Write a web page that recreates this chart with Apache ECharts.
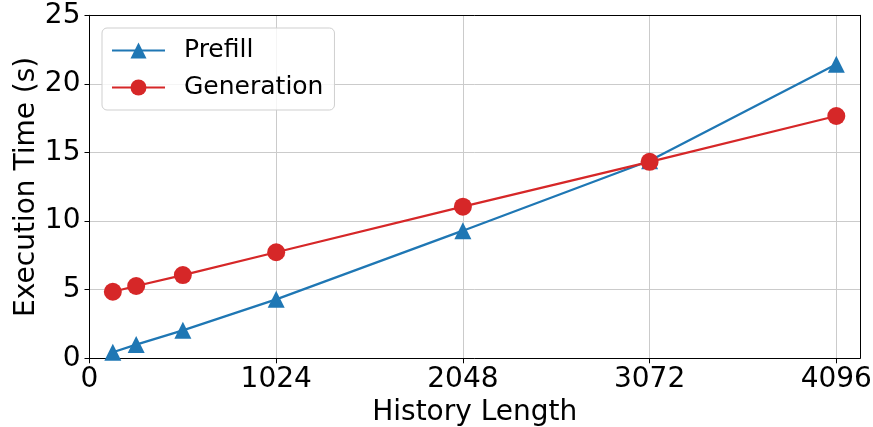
<!DOCTYPE html>
<html>
<head>
<meta charset="utf-8">
<script src="https://cdn.jsdelivr.net/npm/echarts@6/dist/echarts.min.js"></script>
<style>
html,body{margin:0;padding:0;background:#fff;}
#chart{width:873px;height:427px;}
</style>
</head>
<body>
<div id="chart"></div>
<script>
const historyLength = [128, 256, 512, 1024, 2048, 3072, 4096];
const prefill = [0.44, 1.0, 2.04, 4.30, 9.30, 14.4, 21.43];
const generation = [4.85, 5.27, 6.07, 7.73, 11.05, 14.32, 17.66];
const xTicks = [0, 1024, 2048, 3072, 4096];
const yTicks = [0, 5, 10, 15, 20, 25];

const font = 'DejaVu Sans';
const chart = echarts.init(document.getElementById('chart'));
chart.setOption({
  animation: false,
  backgroundColor: '#fff',
  grid: {
    left: 89.5, right: 13, top: 15.3, bottom: 68.7,
    outerBoundsMode: 'none', containLabel: false,
    show: false
  },
  legend: {
    left: 102, top: 28,
    orient: 'vertical',
    data: ['Prefill', 'Generation'],
    itemWidth: 53, itemHeight: 20, itemGap: 12,
    padding: [10, 11, 10, 9],
    borderColor: '#cfcfcf', borderWidth: 1, borderRadius: 5,
    backgroundColor: 'rgba(255,255,255,0.8)',
    textStyle: { fontFamily: font, fontSize: 25, color: '#000', padding: [0, 0, 0, 14] }
  },
  xAxis: [{
    type: 'value',
    min: 0, max: 4226, interval: 1024,
    name: 'History Length',
    nameLocation: 'middle', nameGap: 40, nameMoveOverlap: false,
    nameTextStyle: { fontFamily: font, fontSize: 28, color: '#000' },
    axisLine: { show: true, onZero: false, lineStyle: { color: '#000', width: 1 } },
    axisTick: { show: true, inside: false, length: 5, lineStyle: { color: '#000', width: 1 } },
    axisLabel: {
      fontFamily: font, fontSize: 28, color: '#000', margin: 7,
      showMaxLabel: false,
      formatter: v => (xTicks.indexOf(v) >= 0 ? String(v) : '')
    },
    splitLine: { show: true, lineStyle: { color: '#cbcbcb', width: 1 } }
  }, {
    type: 'value', position: 'top', min: 0, max: 4226,
    axisLine: { show: true, onZero: false, lineStyle: { color: '#000', width: 1 } },
    axisTick: { show: false }, axisLabel: { show: false }, splitLine: { show: false }
  }],
  yAxis: [{
    type: 'value',
    min: 0, max: 25, interval: 5,
    name: 'Execution Time (s)',
    nameLocation: 'middle', nameGap: 49, nameRotate: 90, nameMoveOverlap: false,
    nameTextStyle: { fontFamily: font, fontSize: 28, color: '#000' },
    axisLine: { show: true, onZero: false, lineStyle: { color: '#000', width: 1 } },
    axisTick: { show: true, inside: false, length: 5, lineStyle: { color: '#000', width: 1 } },
    axisLabel: {
      fontFamily: font, fontSize: 28, color: '#000', margin: 9,
      formatter: v => (yTicks.indexOf(v) >= 0 ? String(v) : '')
    },
    splitLine: { show: true, lineStyle: { color: '#cbcbcb', width: 1 } }
  }, {
    type: 'value', position: 'right', min: 0, max: 25,
    axisLine: { show: true, onZero: false, lineStyle: { color: '#000', width: 1 } },
    axisTick: { show: false }, axisLabel: { show: false }, splitLine: { show: false }
  }],
  series: [
    {
      name: 'Prefill', type: 'line',
      data: historyLength.map((x, i) => [x, prefill[i]]),
      symbol: 'triangle', symbolSize: 17,
      lineStyle: { color: '#1f77b4', width: 2.3 },
      itemStyle: { color: '#1f77b4' },
      z: 2
    },
    {
      name: 'Generation', type: 'line',
      data: historyLength.map((x, i) => [x, generation[i]]),
      symbol: 'circle', symbolSize: 18,
      lineStyle: { color: '#d62728', width: 2.3 },
      itemStyle: { color: '#d62728' },
      z: 3
    }
  ]
});
</script>
</body>
</html>
